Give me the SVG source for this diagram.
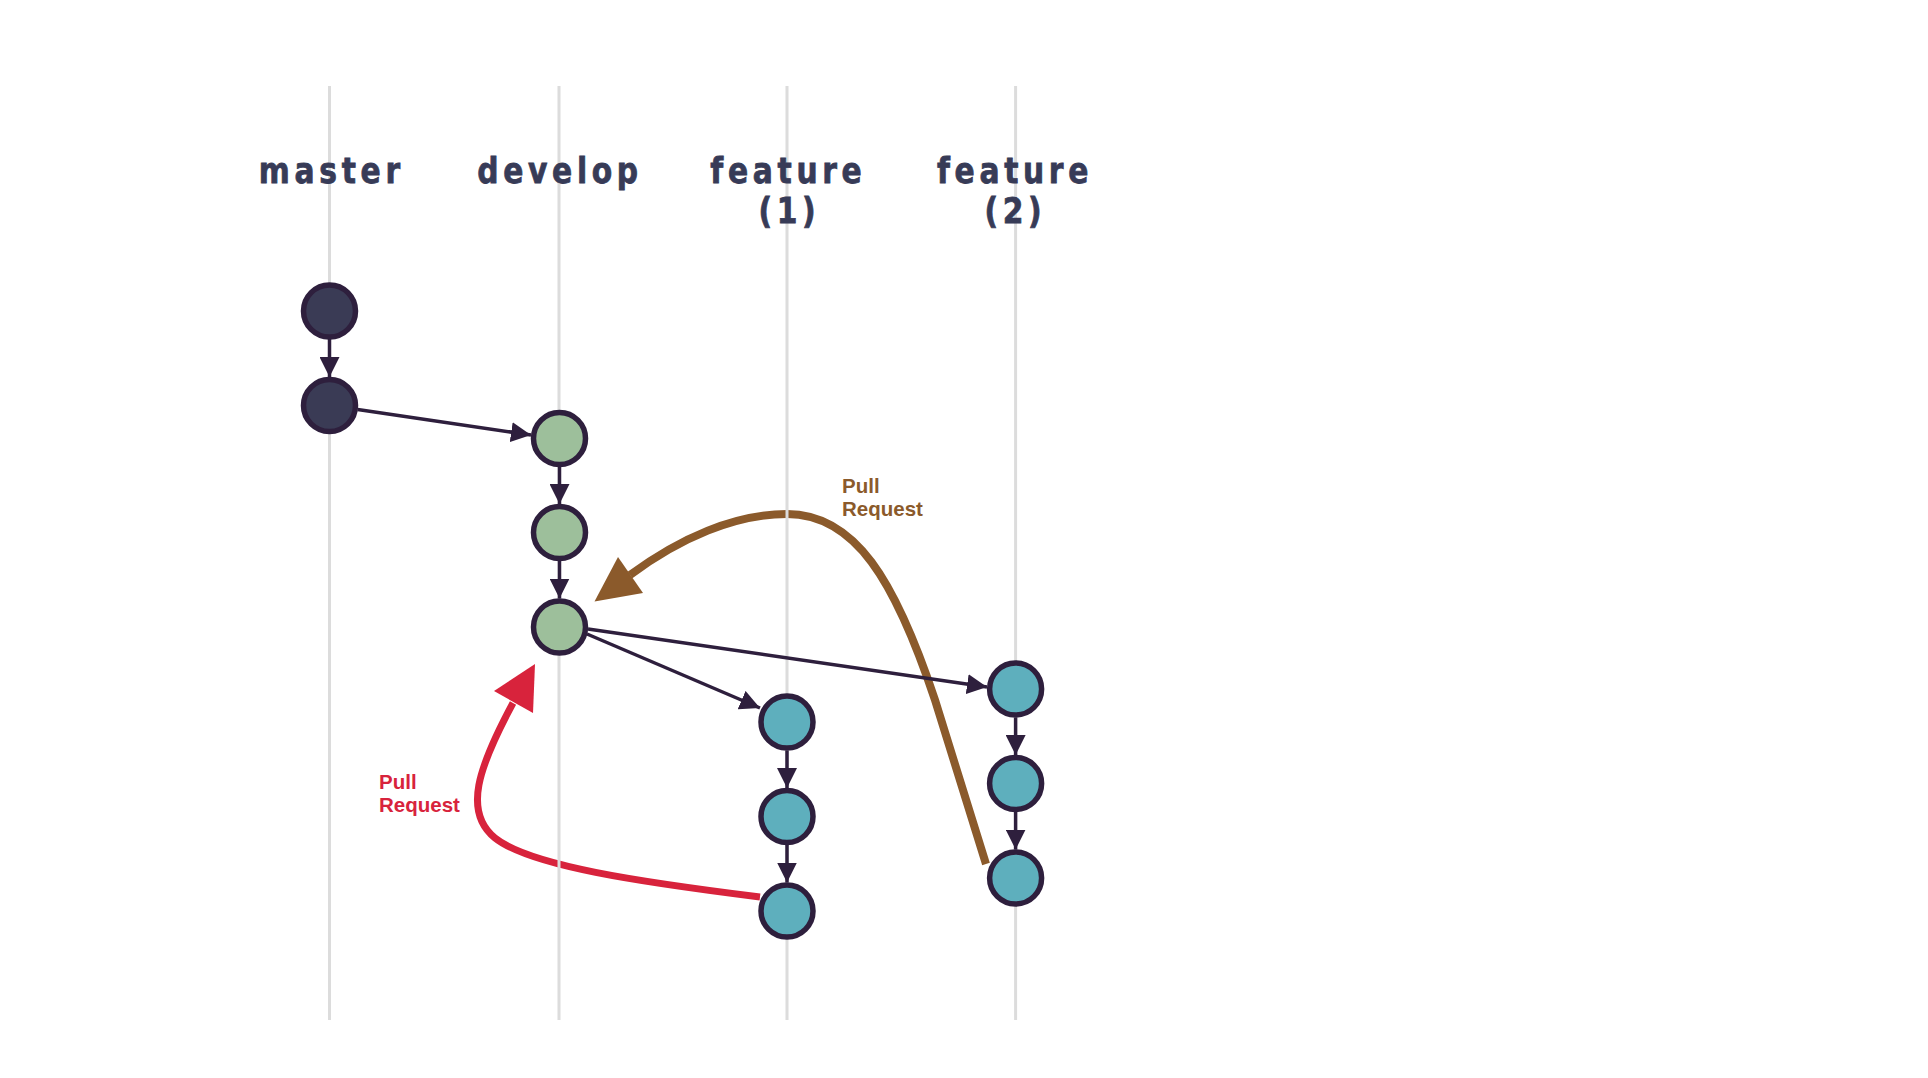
<svg xmlns="http://www.w3.org/2000/svg" width="1928" height="1078" viewBox="0 0 1928 1078">
<style>
.lane{stroke:#dcdcdc;stroke-width:3;fill:none}
.hdr{font-family:"DejaVu Sans",Verdana,sans-serif;font-weight:bold;font-size:35px;fill:#373b57;stroke:#373b57;stroke-width:0.8px;letter-spacing:5.5px;text-anchor:middle}
.node{stroke:#2e1f3d;stroke-width:5.5}
.m{fill:#3a3b55}
.d{fill:#9dbf9b}
.f{fill:#5eafbd}
.conn{stroke:#2e1f3d;stroke-width:3.5;fill:none}
.pr{font-family:"Liberation Sans",Arial,sans-serif;font-weight:bold;font-size:20.5px}
</style>
<defs>
<marker id="ah" markerUnits="userSpaceOnUse" viewBox="0 0 20 20" refX="20" refY="10" markerWidth="20" markerHeight="20" orient="auto">
<path d="M0,0 L20,10 L0,20 z" fill="#2e1f3d"/>
</marker>
</defs>
<rect width="1928" height="1078" fill="#ffffff"/>
<g id="pull-requests">
<path d="M 760 897 C 640 882, 530 866, 495 838 C 463 812, 478 768, 513 703" fill="none" stroke="#d8233c" stroke-width="7"/>
<polygon points="535,664 494,691 533,713" fill="#d8233c"/>
<text class="pr" fill="#d8233c"><tspan x="379" y="789">Pull</tspan><tspan x="379" y="812">Request</tspan></text>
<path d="M 986 864 L 935 700 C 895 580, 855 514, 787 514 C 735 514, 680 538, 630 575" fill="none" stroke="#8b5a2b" stroke-width="8"/>
<polygon points="594.5,601.5 618,557 643,593" fill="#8b5a2b"/>
<text class="pr" fill="#8b5a2b"><tspan x="842" y="493">Pull</tspan><tspan x="842" y="515.5">Request</tspan></text>
</g>
<g id="lanes">
<line class="lane" x1="329.5" y1="86" x2="329.5" y2="1020"/>
<line class="lane" x1="559" y1="86" x2="559" y2="1020"/>
<line class="lane" x1="787" y1="86" x2="787" y2="1020"/>
<line class="lane" x1="1015.6" y1="86" x2="1015.6" y2="1020"/>
</g>
<g id="headers">
<text class="hdr" transform="translate(331.8,182.5) scale(0.85,1)">master</text>
<text class="hdr" transform="translate(560,182.5) scale(0.85,1)">develop</text>
<text class="hdr" transform="translate(788.4,182.5) scale(0.85,1)">feature</text>
<text class="hdr" transform="translate(789.4,222.5) scale(0.85,1)">(1)</text>
<text class="hdr" transform="translate(1015,182.5) scale(0.85,1)">feature</text>
<text class="hdr" transform="translate(1015.4,222.5) scale(0.85,1)">(2)</text>
</g>
<g id="connectors">
<line class="conn" marker-end="url(#ah)" x1="329.5" y1="339" x2="329.5" y2="377"/>
<line class="conn" marker-end="url(#ah)" x1="357.7" y1="409.5" x2="531" y2="435"/>
<line class="conn" marker-end="url(#ah)" x1="559.5" y1="467" x2="559.5" y2="504"/>
<line class="conn" marker-end="url(#ah)" x1="559.5" y1="561" x2="559.5" y2="598.5"/>
<line class="conn" marker-end="url(#ah)" x1="587" y1="634" x2="760" y2="708"/>
<line class="conn" marker-end="url(#ah)" x1="588" y1="629" x2="987" y2="687"/>
<line class="conn" marker-end="url(#ah)" x1="787" y1="750.5" x2="787" y2="788"/>
<line class="conn" marker-end="url(#ah)" x1="787" y1="845" x2="787" y2="882.5"/>
<line class="conn" marker-end="url(#ah)" x1="1015.6" y1="717.5" x2="1015.6" y2="755"/>
<line class="conn" marker-end="url(#ah)" x1="1015.6" y1="812" x2="1015.6" y2="849.5"/>
</g>
<g id="master-1"><circle class="node m" cx="329.5" cy="311" r="26"/></g>
<g id="master-2"><circle class="node m" cx="329.5" cy="405.5" r="26"/></g>
<g id="develop-1"><circle class="node d" cx="559.5" cy="438.5" r="26"/></g>
<g id="develop-2"><circle class="node d" cx="559.5" cy="532.5" r="26"/></g>
<g id="develop-3"><circle class="node d" cx="559.5" cy="627" r="26"/></g>
<g id="feature1-1"><circle class="node f" cx="787" cy="722" r="26"/></g>
<g id="feature1-2"><circle class="node f" cx="787" cy="816.5" r="26"/></g>
<g id="feature1-3"><circle class="node f" cx="787" cy="911" r="26"/></g>
<g id="feature2-1"><circle class="node f" cx="1015.6" cy="689" r="26"/></g>
<g id="feature2-2"><circle class="node f" cx="1015.6" cy="783.5" r="26"/></g>
<g id="feature2-3"><circle class="node f" cx="1015.6" cy="878" r="26"/></g>
</svg>
